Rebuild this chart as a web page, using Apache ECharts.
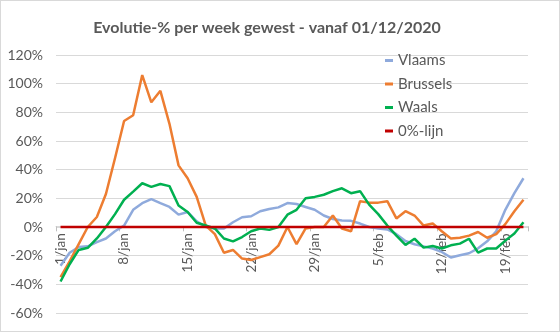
<!DOCTYPE html>
<html>
<head>
<meta charset="utf-8">
<script src="https://cdn.jsdelivr.net/npm/echarts@6/dist/echarts.min.js"></script>
<style>
html,body{margin:0;padding:0;background:#fff;}
#c{width:560px;height:332px;box-sizing:border-box;border:1px solid #d9d9d9;}
</style>
</head>
<body>
<div id="c"></div>
<script>
const categories = [
  "1/jan","2/jan","3/jan","4/jan","5/jan","6/jan","7/jan","8/jan","9/jan","10/jan",
  "11/jan","12/jan","13/jan","14/jan","15/jan","16/jan","17/jan","18/jan","19/jan","20/jan",
  "21/jan","22/jan","23/jan","24/jan","25/jan","26/jan","27/jan","28/jan","29/jan","30/jan",
  "31/jan","1/feb","2/feb","3/feb","4/feb","5/feb","6/feb","7/feb","8/feb","9/feb",
  "10/feb","11/feb","12/feb","13/feb","14/feb","15/feb","16/feb","17/feb","18/feb","19/feb",
  "20/feb","21/feb"
];
const vlaams = [
  -27,-18,-14,-13.5,-10.5,-8,-3,1,12,16.6,
  19.4,16.6,14,8.6,10.5,4,0,-1,-1,3.3,
  6.8,7.5,11,12.6,13.7,16.7,16,14,12,8,
  5.6,4.5,4.3,2.4,0,-1,-1.7,-5,-9.8,-12,
  -13.5,-15,-17.4,-21.3,-19.7,-18.3,-14.9,-10,-3,12,
  23.6,34
];
const brussels = [
  -35,-24,-12,0,7,23,48,74,78,106,
  87,95,72,43,34,21,1,-5,-18,-16,
  -22,-23,-21,-19,-13,0,-12,-1,0,0,
  8,-1,-3,18,17,17,18,6,11,8,
  1,2.5,-3,-8,-7.5,-6,-3.5,-7.5,-5,2,
  11,19
];
const waals = [
  -38,-26,-16,-14.5,-8,0,9,19,24.7,30.5,
  28,30,28.5,15,10.5,3,1,-1,-8,-10,
  -7,-3,-1,-2,0,8.6,12,20,21,22.5,
  25,27,23.6,25,15.6,9,1,-6,-12.5,-8.2,
  -14.4,-13.3,-15,-12.8,-11.6,-8.2,-17.9,-15,-15,-9.5,
  -4.5,3.3
];
const nulLijn = categories.map(() => 0);
const yTicks = { min: -60, max: 120, interval: 20 };

const FONT = 'Lato';
const TXT = '#595959';
const GRID = {left: 55, right: 31, top: 54, bottom: 18};
const plotH = 332 - GRID.top - GRID.bottom;
const zeroOffset = -plotH * (0 - yTicks.min) / (yTicks.max - yTicks.min);

const chart = echarts.init(document.getElementById('c'), null, {renderer: 'canvas'});
function lineSeries(name, data, color) {
  return {
    name, type: 'line', data, symbol: 'none', smooth: false,
    lineStyle: {color, width: 2.5}, itemStyle: {color},
    animation: false
  };
}
chart.setOption({
  animation: false,
  backgroundColor: '#fff',
  title: {
    text: 'Evolutie-% per week gewest - vanaf 01/12/2020',
    left: 261, top: 14, textAlign: 'center',
    textStyle: {fontFamily: FONT, fontSize: 16, fontWeight: 'bold', color: TXT}
  },
  legend: {
    orient: 'vertical', left: 384, top: 52, padding: 0,
    itemWidth: 8, itemHeight: 3, itemGap: 8.5,
    icon: 'rect',
    textStyle: {fontFamily: FONT, fontSize: 15, color: TXT, lineHeight: 14},
    data: ['Vlaams','Brussels','Waals','0%-lijn']
  },
  grid: Object.assign({containLabel: false}, GRID),
  xAxis: {
    type: 'category', data: categories, boundaryGap: true,
    offset: zeroOffset,
    axisLine: {onZero: false, lineStyle: {color: '#d9d9d9'}},
    axisTick: {show: true, interval: 6, length: 5, lineStyle: {color: '#bfbfbf'}},
    axisLabel: {interval: 6, rotate: 90, margin: 7, fontFamily: FONT, fontSize: 13.5, color: TXT},
    splitLine: {show: false}
  },
  yAxis: {
    type: 'value', min: yTicks.min, max: yTicks.max, interval: yTicks.interval,
    axisLine: {show: false}, axisTick: {show: false},
    axisLabel: {formatter: v => v + '%', margin: 13, fontFamily: FONT, fontSize: 14, color: TXT},
    splitLine: {lineStyle: {color: '#d9d9d9', width: 1}}
  },
  series: [
    lineSeries('Vlaams', vlaams, '#8faadc'),
    lineSeries('Brussels', brussels, '#ed7d31'),
    lineSeries('Waals', waals, '#00b050'),
    lineSeries('0%-lijn', nulLijn, '#c00000')
  ]
});
</script>
</body>
</html>
